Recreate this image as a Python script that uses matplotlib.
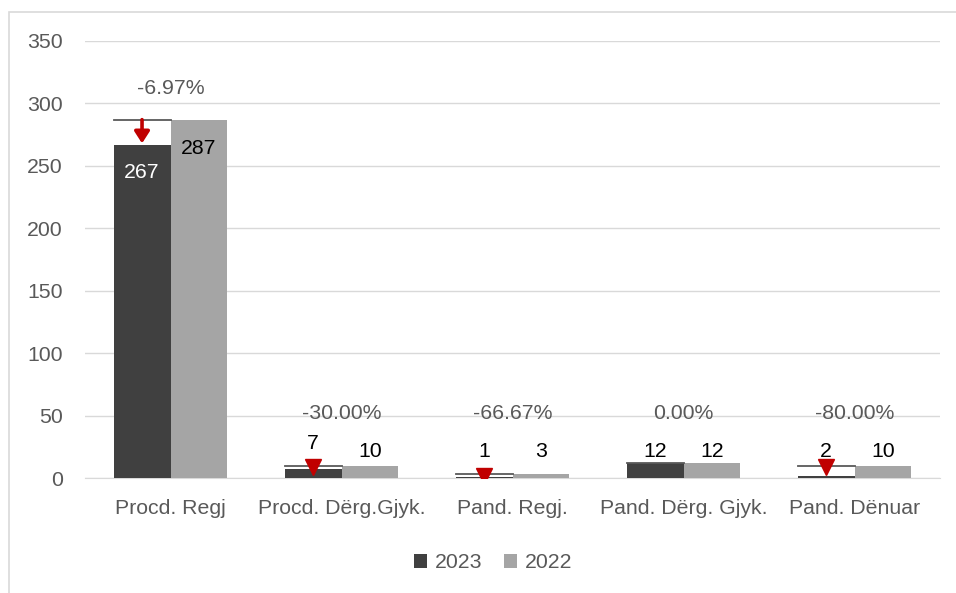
import matplotlib.pyplot as plt
import numpy as np
from matplotlib.patches import Rectangle

categories = ["Procd. Regj", "Procd. Dërg.Gjyk.", "Pand. Regj.", "Pand. Dërg. Gjyk.", "Pand. Dënuar"]
values_2023 = [267, 7, 1, 12, 2]
values_2022 = [287, 10, 3, 12, 10]
change_labels = ["-6.97%", "-30.00%", "-66.67%", "0.00%", "-80.00%"]
y_ticks = [0, 50, 100, 150, 200, 250, 300, 350]

DARK = "#404040"
LIGHT = "#a5a5a5"
TEXT = "#595959"
GRID = "#d9d9d9"
FONT = ["Liberation Sans", "DejaVu Sans"]
FS = 15.3

plt.rcParams['font.family'] = FONT

fig = plt.figure(figsize=(9.56, 5.93), dpi=100)
ax = fig.add_axes([85 / 956, 1 - 478 / 593, (940 - 85) / 956, (478 - 41) / 593])

x = np.arange(len(categories))
w = 0.333
b23 = ax.bar(x - w / 2, values_2023, w, color=DARK, label="2023", zorder=3)
b22 = ax.bar(x + w / 2, values_2022, w, color=LIGHT, label="2022", zorder=3)

for i, (v23, v22) in enumerate(zip(values_2023, values_2022)):
    xl = x[i] - w
    # line at last year's value over the 2023 bar
    ax.plot([xl, x[i]], [v22, v22], color="#595959", lw=1.3, zorder=4)
    if v23 < v22:
        xc = x[i] - w / 2
        if v22 - v23 > 15:
            ax.annotate("", xy=(xc, v23 + 1), xytext=(xc, v22),
                        arrowprops=dict(arrowstyle="-|>,head_width=0.45,head_length=0.7",
                                        color="#c00000", lw=2.6, shrinkA=0, shrinkB=0), zorder=5)
        else:
            ax.plot([xc], [v22 - 1], marker="v", color="#c00000", ms=11, zorder=5)
    top = max(v23, v22)
    pct_y = max(top + 25, 52)
    ax.text(x[i], pct_y, change_labels[i], ha="center", va="center", fontsize=FS, color=TEXT)
    if top > 100:
        ax.text(x[i] - w / 2, v23 - 22, str(v23), ha="center", va="center", fontsize=FS, color="white", zorder=6)
        ax.text(x[i] + w / 2, v22 - 23, str(v22), ha="center", va="center", fontsize=FS, color="black", zorder=6)
    else:
        y23 = 28 if v22 - v23 > 0 and v23 > 5 else 21
        ax.text(x[i] - w / 2, y23, str(v23), ha="center", va="center", fontsize=FS, color="black", zorder=6)
        ax.text(x[i] + w / 2, 21, str(v22), ha="center", va="center", fontsize=FS, color="black", zorder=6)

ax.set_xlim(-0.5, len(categories) - 0.5)
ax.set_ylim(0, 350)
ax.set_yticks(y_ticks)
ax.set_xticks(x)
ax.set_xticklabels(categories)
ax.tick_params(axis="both", length=0, labelsize=FS, colors=TEXT)
ax.tick_params(axis="x", pad=15)
ax.tick_params(axis="y", pad=16)
ax.yaxis.grid(True, color=GRID, lw=1)
ax.set_axisbelow(True)
for s in ["top", "right", "left"]:
    ax.spines[s].set_visible(False)
ax.spines["bottom"].set_color(GRID)

fig.legend(handles=[b23, b22], labels=["2023", "2022"], loc="center", bbox_to_anchor=(493 / 956, 1 - 563 / 593),
           ncol=2, frameon=False, fontsize=FS, labelcolor=TEXT, handlelength=0.65, handleheight=0.65,
           columnspacing=1.0, handletextpad=0.35)

fig.patches.append(Rectangle((8.5 / 956, -0.1), 1.2, 1.1 - 12 / 593, transform=fig.transFigure,
                             fill=False, edgecolor="#d9d9d9", lw=1.2))

fig.savefig("out.png", dpi=100)
